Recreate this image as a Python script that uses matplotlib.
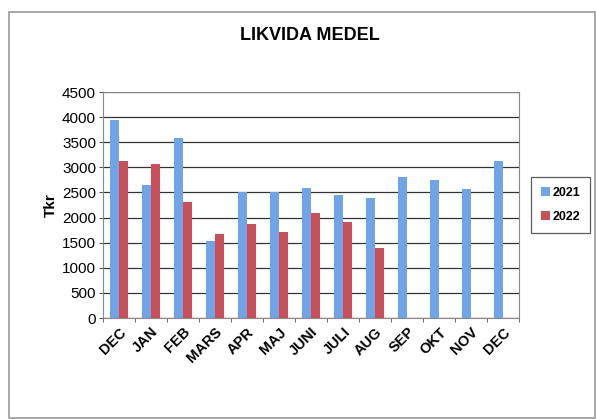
import matplotlib.pyplot as plt
import numpy as np
from matplotlib.patches import Rectangle

# Data
months = ['DEC', 'JAN', 'FEB', 'MARS', 'APR', 'MAJ', 'JUNI', 'JULI', 'AUG', 'SEP', 'OKT', 'NOV', 'DEC']
values_2021 = [3940, 2640, 3590, 1530, 2500, 2500, 2580, 2440, 2380, 2810, 2750, 2560, 3130]
values_2022 = [3130, 3060, 2310, 1670, 1870, 1720, 2100, 1910, 1400]

plt.rcParams['font.family'] = ['Liberation Sans', 'DejaVu Sans']

fig = plt.figure(figsize=(5.96, 4.19), dpi=100)
fig.patches.append(Rectangle((9 / 596, 1 - 418 / 419), 586 / 596, 406 / 419,
                             transform=fig.transFigure, fill=False,
                             edgecolor='#9a9a9a', linewidth=1.2))

ax = fig.add_axes([103 / 596, 1 - 318 / 419, 416 / 596, 226 / 419])

x = np.arange(len(months))
w = 0.28
ax.bar(x - w / 2, values_2021, width=w, color='#6fa5e5', label='2021', zorder=3)
ax.bar(x[:len(values_2022)] + w / 2, values_2022, width=w, color='#c9505a', label='2022', zorder=3)

ax.set_xlim(-0.5, len(months) - 0.5)
ax.set_ylim(0, 4500)
ax.set_yticks(np.arange(0, 4501, 500))
ax.yaxis.grid(True, color='#333333', linewidth=0.9, zorder=0)
ax.set_xticks(x)
ax.set_xticklabels(months, rotation=45, ha='right', rotation_mode='anchor',
                   fontsize=10.5, fontweight='bold')
ax.set_xticks(np.arange(-0.5, len(months)), minor=True)
ax.tick_params(axis='x', which='major', length=0, pad=5)
ax.tick_params(axis='x', which='minor', length=3, color='#555555')
ax.tick_params(axis='y', labelsize=11, length=3, pad=2, color='#555555')
ax.set_ylabel('Tkr', fontsize=11, fontweight='bold', labelpad=3)
for s in ax.spines.values():
    s.set_color('#888888')

fig.text(310 / 596, 1 - 36 / 419, 'LIKVIDA MEDEL', ha='center', va='center',
         fontsize=13, fontweight='bold')

leg = ax.legend(loc='center left', bbox_to_anchor=(1.03, 0.5), frameon=True,
                fancybox=False, prop={'size': 9, 'weight': 'bold'},
                handlelength=0.7, handleheight=0.7, handletextpad=0.2,
                borderpad=0.8, labelspacing=1.0, borderaxespad=0)
leg.get_frame().set_edgecolor('#333333')
leg.get_frame().set_linewidth(0.9)

fig.savefig('out.png', dpi=100)
